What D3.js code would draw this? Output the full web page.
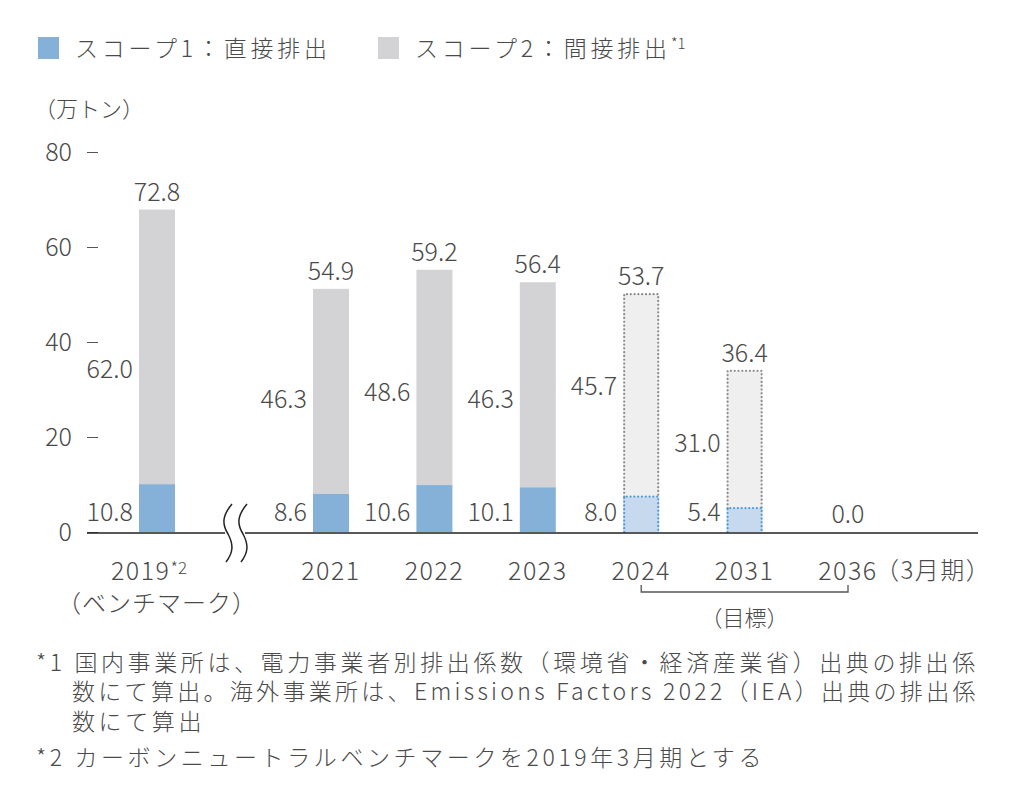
<!DOCTYPE html>
<html>
<head>
<meta charset="utf-8">
<script src="https://cdn.jsdelivr.net/npm/d3@7"></script>
<style>
  body { margin: 0; background: #fff; }
  text { font-family: "Noto Sans CJK JP", "Noto Sans", sans-serif; font-weight: 300; fill: #4a4a4a; }
</style>
</head>
<body>
<div id="chart"></div>
<script>
////////////////////////////////////////////////////////////////////////
// Data (万トン)

let years  = ["2019", "2021", "2022", "2023", "2024", "2031", "2036"];
let scope1 = [10.8, 8.6, 10.6, 10.1, 8.0, 5.4, 0.0];
let scope2 = [62.0, 46.3, 48.6, 46.3, 45.7, 31.0, 0.0];
let totals = [72.8, 54.9, 59.2, 56.4, 53.7, 36.4, 0.0];
// target years are drawn as dotted outlines
let targets = ["2024", "2031", "2036"];
let yTicks = [0, 20, 40, 60, 80];

let legendLabels = ["スコープ1：直接排出", "スコープ2：間接排出"];
let notes = [
  "*1 国内事業所は、電力事業者別排出係数（環境省・経済産業省）出典の排出係",
  "数にて算出。海外事業所は、Emissions Factors 2022（IEA）出典の排出係",
  "数にて算出",
  "*2 カーボンニュートラルベンチマークを2019年3月期とする"
];

let rows = years.map(function(y, i) {
  return { year: y, s1: scope1[i], s2: scope2[i], total: totals[i], target: targets.indexOf(y) >= 0 };
});

////////////////////////////////////////////////////////////////////////
// svg + scales

let width = 1018, height = 796;
let blue = "#85b1d9", gray = "#d3d3d5";

let svg = d3.select("#chart").append("svg")
  .attr("width", width).attr("height", height);

// axis ticks run 0..80; the source draws its bars a little short of the axis
let yAxisScale = d3.scaleLinear().domain([0, 80]).range([532, 152]);
let yScale = d3.scaleLinear().domain([0, 85.8]).range([532, 152]);

// regular years on a point scale, the benchmark year sits left of the axis break
let xMain = d3.scalePoint().domain(years.slice(1)).range([331, 848]);
function xPos(y) { return y === "2019" ? xMain("2021") - 174 : xMain(y); }
let barW = 36;

////////////////////////////////////////////////////////////////////////
// legend

let legend = svg.append("g").selectAll("g")
  .data(legendLabels).enter().append("g")
  .attr("transform", function(d, i) { return "translate(" + (38 + i * 340) + ",37)"; });
legend.append("rect").attr("width", 21).attr("height", 22)
  .attr("fill", function(d, i) { return i === 0 ? blue : gray; });
legend.append("text").attr("x", 37).attr("y", 20)
  .style("font-size", "23px").style("letter-spacing", "3.8px")
  .text(function(d) { return d; })
  .append("tspan").attr("dy", -8).style("font-size", "15px").style("letter-spacing", "0px")
  .text(function(d, i) { return i === 1 ? "*1" : ""; });

svg.append("text").attr("x", 34).attr("y", 117)
  .style("font-size", "22px").text("（万トン）");

////////////////////////////////////////////////////////////////////////
// y axis

let yAxis = d3.axisLeft(yAxisScale).tickValues(yTicks).tickSize(11).tickPadding(15);
let gAxis = svg.append("g").attr("transform", "translate(98,0)").call(yAxis);
gAxis.select(".domain").remove();
gAxis.selectAll("line").attr("stroke", "#555");
gAxis.selectAll("text").style("font-size", "25px").attr("fill", "#4a4a4a")
  .attr("font-family", null);

////////////////////////////////////////////////////////////////////////
// bars

let bars = svg.append("g").selectAll("g")
  .data(rows.filter(function(d) { return d.total > 0; }))
  .enter().append("g");

bars.append("rect")
  .attr("x", function(d) { return xPos(d.year) - barW / 2; })
  .attr("width", barW)
  .attr("y", function(d) { return yScale(d.s1 + d.s2); })
  .attr("height", function(d) { return yScale(d.s1) - yScale(d.s1 + d.s2); })
  .attr("fill", function(d) { return d.target ? "#efefef" : gray; });

bars.append("rect")
  .attr("x", function(d) { return xPos(d.year) - barW / 2; })
  .attr("width", barW)
  .attr("y", function(d) { return yScale(d.s1); })
  .attr("height", function(d) { return yScale(0) - yScale(d.s1); })
  .attr("fill", function(d) { return d.target ? "#c6d9ee" : blue; });

// dotted outlines for target years (left, top, right sides)
let dotted = bars.filter(function(d) { return d.target; });
dotted.append("path")
  .attr("d", function(d) {
    let x = xPos(d.year) - barW / 2 + 1;
    return "M" + x + "," + yScale(d.s1) + "V" + yScale(d.s1 + d.s2) +
      "H" + (x + barW - 2) + "V" + yScale(d.s1);
  })
  .attr("fill", "none").attr("stroke", "#8a8a8a").attr("stroke-width", 2.2)
  .attr("stroke-linecap", "round").attr("stroke-dasharray", "0 3.8");
dotted.append("path")
  .attr("d", function(d) {
    let x = xPos(d.year) - barW / 2 + 1;
    return "M" + x + "," + yScale(0) + "V" + yScale(d.s1) +
      "H" + (x + barW - 2) + "V" + yScale(0);
  })
  .attr("fill", "none").attr("stroke", "#4a9ad8").attr("stroke-width", 2.2)
  .attr("stroke-linecap", "round").attr("stroke-dasharray", "0 3.8");

////////////////////////////////////////////////////////////////////////
// value labels

// nudges keep the benchmark label clear of the axis ticks
let s2Nudge = { "2019": 15, "2024": -14 };

bars.append("text").attr("class", "s1")
  .attr("x", function(d) { return xPos(d.year) - barW / 2 - 6; })
  .attr("y", yScale(0) - 11)
  .attr("text-anchor", "end").style("font-size", "25px")
  .text(function(d) { return d.s1.toFixed(1); });

bars.append("text").attr("class", "s2")
  .attr("x", function(d) { return xPos(d.year) - barW / 2 - 6; })
  .attr("y", function(d) { return yScale(d.s2 * 0.65) + 9 + (s2Nudge[d.year] || 0); })
  .attr("text-anchor", "end").style("font-size", "25px")
  .text(function(d) { return d.s2.toFixed(1); });

svg.append("g").selectAll("text")
  .data(rows).enter().append("text")
  .attr("x", function(d) { return xPos(d.year); })
  .attr("y", function(d) { return yScale(d.total) - 9; })
  .attr("text-anchor", "middle").style("font-size", "25px")
  .text(function(d) { return d.total.toFixed(1); });

////////////////////////////////////////////////////////////////////////
// baseline with break mark

svg.append("path").attr("d", "M87,533H225M245,533H978")
  .attr("stroke", "#222").attr("stroke-width", 1.5);
[0, 15].forEach(function(dx) {
  svg.append("path")
    .attr("d", "M" + (232 + dx) + ",504 C" + (222 + dx) + ",516 " + (222 + dx) + ",524 " +
      (228 + dx) + ",534 C" + (234 + dx) + ",545 " + (233 + dx) + ",553 " + (226 + dx) + ",562")
    .attr("fill", "none").attr("stroke", "#222").attr("stroke-width", 1.5);
});

////////////////////////////////////////////////////////////////////////
// x labels

let xl = svg.append("g").selectAll("text")
  .data(years).enter().append("text")
  .attr("x", function(d) { return xPos(d) + (d === "2019" ? -8 : 0); })
  .attr("y", 580).attr("text-anchor", "middle")
  .style("font-size", "25px").style("letter-spacing", "1.5px")
  .text(function(d) { return d; });
xl.filter(function(d) { return d === "2019"; })
  .append("tspan").attr("dy", -6).style("font-size", "17px").style("letter-spacing", "0px").text("*2");

svg.append("text").attr("x", xPos("2019")).attr("y", 612)
  .attr("text-anchor", "middle").style("font-size", "24px").style("letter-spacing", "1px")
  .text("（ベンチマーク）");
svg.append("text").attr("x", 875).attr("y", 579)
  .style("font-size", "24px").style("letter-spacing", "1.5px").text("（3月期）");

// bracket under the target years
svg.append("path")
  .attr("d", "M" + xMain("2024") + ",585V592H" + xMain("2036") + "V585")
  .attr("fill", "none").attr("stroke", "#555").attr("stroke-width", 1.3);
svg.append("text").attr("x", xMain("2031")).attr("y", 626)
  .attr("text-anchor", "middle").style("font-size", "22px").text("（目標）");

////////////////////////////////////////////////////////////////////////
// footnotes

svg.append("g").selectAll("text")
  .data(notes).enter().append("text")
  .attr("x", function(d, i) { return (i === 1 || i === 2) ? 72 : 36; })
  .attr("y", function(d, i) { return [671, 700, 730, 766][i]; })
  .style("font-size", "23px").style("letter-spacing", function(d, i) { return i === 1 ? "3.3px" : "3.6px"; })
  .text(function(d) { return d; });
</script>
</body>
</html>
